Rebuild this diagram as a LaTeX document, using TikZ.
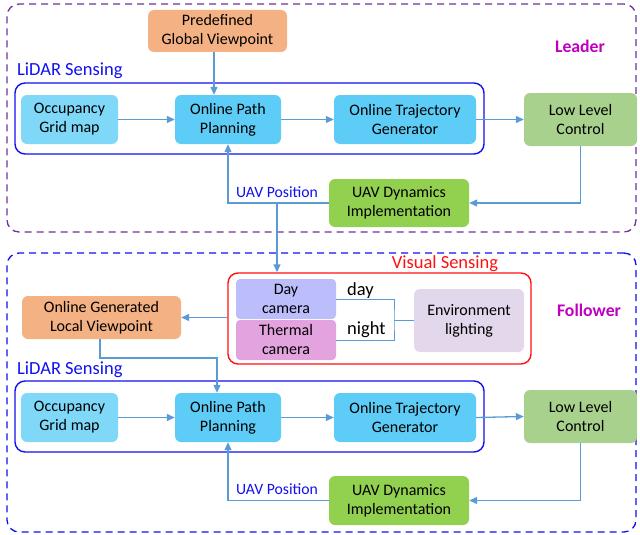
\documentclass[tikz,border=0pt]{standalone}
\usepackage{fontspec}
\setmainfont{Carlito}
\usetikzlibrary{arrows.meta}
\definecolor{cOrange}{HTML}{F4B183}
\definecolor{cOcc}{HTML}{80D8F8}
\definecolor{cPath}{HTML}{5DCCF6}
\definecolor{cLow}{HTML}{A9D18E}
\definecolor{cUAV}{HTML}{92D050}
\definecolor{cDay}{HTML}{BCBDFB}
\definecolor{cTherm}{HTML}{E3A3DE}
\definecolor{cEnv}{HTML}{E3D7EB}
\definecolor{cArrow}{HTML}{5B9BD5}
\definecolor{cPurple}{HTML}{7030A0}
\definecolor{cBlue}{HTML}{1010F0}
\definecolor{cMag}{HTML}{C000C0}
\definecolor{cRed}{HTML}{FF1010}
\tikzset{
  box/.style={draw=none, rounded corners=6pt, align=center, inner sep=0pt,
    font=\fontsize{16}{19}\selectfont, text=black},
  group/.style={draw=cBlue, line width=1.4pt, rounded corners=10pt, inner sep=0pt},
  outer/.style={dashed, line width=1.3pt, rounded corners=12pt, dash pattern=on 7pt off 5pt},
  arr/.style={draw=cArrow, line width=1.3pt, -{Triangle[length=8pt,width=7pt]}},
  ln/.style={draw=cArrow, line width=0.9pt},
  lab/.style={font=\fontsize{18.5}{21}\selectfont, inner sep=0pt},
  poslab/.style={font=\fontsize{15.7}{18}\selectfont, inner sep=0pt, text=cBlue, anchor=west},
  role/.style={font=\fontsize{17.7}{21}\selectfont\bfseries, inner sep=0pt, text=cMag},
}
\begin{document}
\begin{tikzpicture}[x=1pt,y=-1pt]
\useasboundingbox (0,0) rectangle (640,535);
% outer dashed boxes
\node[outer, draw=cPurple, minimum width=629pt, minimum height=228pt] (leader) at (321.5,118) {};
\node[outer, draw=cBlue, minimum width=629pt, minimum height=279pt] (follower) at (321.5,392.5) {};
\node[role] (tLeader) at (580,46) {Leader};
\node[role] (tFollower) at (589,310) {Follower};

% ---------------- Leader ----------------
\node[group, minimum width=469pt, minimum height=71pt] (lidL) at (249.5,118.5) {};
\node[lab, text=cBlue, anchor=west] (tLidL) at (17,71) {LiDAR Sensing};
\node[box, fill=cOrange, minimum width=139pt, minimum height=42pt] (pre) at (217.5,31) {Predefined\\Global Viewpoint};
\node[box, fill=cOcc, minimum width=97pt, minimum height=49pt] (occL) at (69.5,119.5) {Occupancy\\Grid map};
\node[box, fill=cPath, minimum width=106pt, minimum height=49pt] (pathL) at (228,119.5) {Online Path\\Planning};
\node[box, fill=cPath, minimum width=142pt, minimum height=49pt] (trajL) at (405,119.5) {Online Trajectory\\Generator};
\node[box, fill=cLow, minimum width=113pt, minimum height=53pt] (lowL) at (580.5,119.5) {Low Level\\Control};
\node[box, fill=cUAV, minimum width=140pt, minimum height=48pt] (uavL) at (399,203) {UAV Dynamics\\Implementation};
\node[poslab] (posL) at (236,192) {UAV Position};

\draw[arr] (pre.south -| 214,0) -- (pathL.north -| 214,0);
\draw[arr] (occL.east) -- (pathL.west);
\draw[arr] (pathL.east) -- (trajL.west);
\draw[arr] (trajL.east) -- (lowL.west);
\draw[arr] (lowL.south) |- (uavL.east);
\draw[arr] (uavL.west) -| (pathL.south);
\coordinate (jL) at (277,203);

% ---------------- Follower ----------------
\node[group, draw=cRed, minimum width=303pt, minimum height=91pt] (vis) at (379.5,318.5) {};
\node[lab, text=cRed] (tVis) at (445,264) {Visual Sensing};
\draw[arr] (jL) -- (jL |- vis.north);
\node[box, fill=cDay, rounded corners=4pt, minimum width=100pt, minimum height=40pt] (day) at (286,299) {Day\\camera};
\node[box, fill=cTherm, rounded corners=4pt, minimum width=100pt, minimum height=40pt] (therm) at (286,340) {Thermal\\camera};
\node[box, fill=cEnv, minimum width=110pt, minimum height=63pt] (env) at (469,320.5) {Environment\\lighting};
\coordinate (jv) at (394,320.5);
\draw[ln] (day.east) -| (jv) |- (therm.east);
\draw[ln] (jv) -- (env.west);
\node[lab, anchor=west] (tday) at (347,291) {day};
\node[lab, anchor=west] (tnight) at (347,330) {night};

\node[box, fill=cOrange, minimum width=159pt, minimum height=43pt] (oglv) at (101.5,317.5) {Online Generated\\Local Viewpoint};
\draw[arr] (vis.west |- oglv.east) -- (oglv.east);

\node[group, minimum width=469pt, minimum height=71pt] (lidF) at (249.5,416.5) {};
\node[lab, text=cBlue, anchor=west] (tLidF) at (17,370) {LiDAR Sensing};
\node[box, fill=cOcc, minimum width=97pt, minimum height=49pt] (occF) at (69.5,417.5) {Occupancy\\Grid map};
\node[box, fill=cPath, minimum width=106pt, minimum height=49pt] (pathF) at (228,417.5) {Online Path\\Planning};
\node[box, fill=cPath, minimum width=142pt, minimum height=49pt] (trajF) at (405,417.5) {Online Trajectory\\Generator};
\node[box, fill=cLow, minimum width=113pt, minimum height=53pt] (lowF) at (580.5,416.5) {Low Level\\Control};
\node[box, fill=cUAV, minimum width=140pt, minimum height=49pt] (uavF) at (399,500.5) {UAV Dynamics\\Implementation};
\node[poslab] (posF) at (236,489) {UAV Position};

\coordinate (kF) at (217,358);
\draw[arr] (oglv.south -| 100,0) |- (kF) -- (kF |- pathF.north);
\draw[arr] (occF.east) -- (pathF.west);
\draw[arr] (pathF.east) -- (trajF.west);
\draw[arr] (trajF.east) -- (lowF.west);
\draw[arr] (lowF.south) |- (uavF.east);
\draw[arr] (uavF.west) -| (pathF.south);
\end{tikzpicture}
\end{document}
